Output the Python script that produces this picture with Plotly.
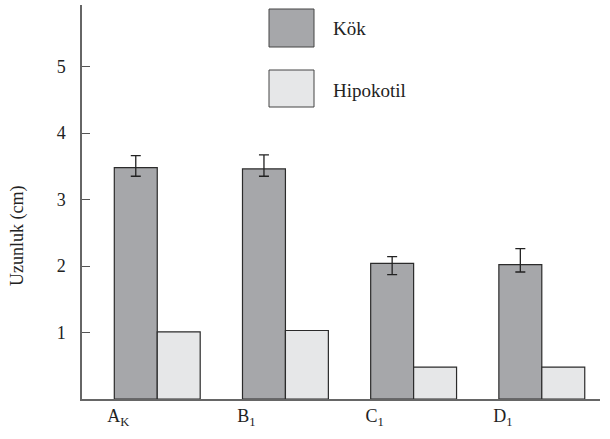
import plotly.graph_objects as go

categories = ["A<sub>K</sub>", "B<sub>1</sub>", "C<sub>1</sub>", "D<sub>1</sub>"]
kok = [3.48, 3.46, 2.04, 2.02]
kok_err_plus = [0.18, 0.21, 0.10, 0.24]
kok_err_minus = [0.13, 0.11, 0.17, 0.11]
hipokotil = [1.01, 1.03, 0.48, 0.48]
series_names = ["Kök", "Hipokotil"]
y_ticks = [1, 2, 3, 4, 5]

FONT = "Liberation Serif"
KOK_COLOR = "#a6a7aa"
HIP_COLOR = "#e6e7e8"
EDGE = "#2b2b2b"
H, B, PH = 439, 40, 394


def py(page_y):
    return (H - B - page_y) / PH


def px(page_x):
    return (page_x - 82) / 518


fig = go.Figure()
fig.add_trace(go.Bar(
    x=categories, y=kok, name=series_names[0],
    marker=dict(color=KOK_COLOR, line=dict(color=EDGE, width=1.2)),
    error_y=dict(type="data", symmetric=False, array=kok_err_plus,
                 arrayminus=kok_err_minus, color="#222", thickness=1.3, width=5),
))
fig.add_trace(go.Bar(
    x=categories, y=hipokotil, name=series_names[1],
    marker=dict(color=HIP_COLOR, line=dict(color=EDGE, width=1.2)),
))

# custom legend (large squares)
legend_items = [(series_names[0], KOK_COLOR, 9, 47, 28), (series_names[1], HIP_COLOR, 70, 107, 90)]
for name, col, y_top, y_bot, y_txt in legend_items:
    fig.add_shape(type="rect", xref="paper", yref="paper",
                  x0=px(269), x1=px(314), y0=py(y_bot), y1=py(y_top),
                  fillcolor=col, line=dict(color="#444", width=1))
    fig.add_annotation(xref="paper", yref="paper", x=px(331), y=py(y_txt),
                       text=name, showarrow=False, xanchor="left", yanchor="middle",
                       font=dict(family=FONT, size=19, color="#222"))

# y axis title
fig.add_annotation(xref="paper", yref="paper", x=px(18), y=py(236),
                   text="Uzunluk (cm)", textangle=-90, showarrow=False,
                   xanchor="center", yanchor="middle",
                   font=dict(family=FONT, size=18, color="#222"))

fig.update_layout(
    width=610, height=439,
    margin=dict(l=82, r=10, t=5, b=40),
    paper_bgcolor="white", plot_bgcolor="white",
    barmode="group", bargap=0.33, bargroupgap=0,
    showlegend=False,
    font=dict(family=FONT, size=18, color="#222"),
    xaxis=dict(range=[-0.587, 3.454], showline=True, linecolor="#666", linewidth=1.5,
               ticks="", showgrid=False, zeroline=False, ticklabelshift=-39,
               automargin=False,
               tickfont=dict(family=FONT, size=18, color="#222")),
    yaxis=dict(range=[0, 5.925], tickvals=y_ticks, ticks="inside", ticklen=8,
               tickcolor="#555", tickwidth=1.2, showline=True, linecolor="#666",
               linewidth=1.5, showgrid=False, zeroline=False,
               ticklabelstandoff=11, automargin=False,
               tickfont=dict(family=FONT, size=18, color="#222")),
)

fig.write_html("out.html", config={"displayModeBar": False},
               post_script="document.body.style.margin='0';")
